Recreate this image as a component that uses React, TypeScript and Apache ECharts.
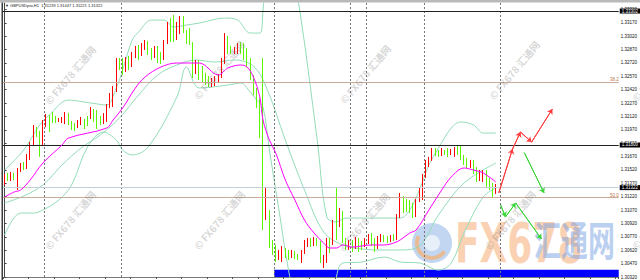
import React, { useEffect, useRef } from "react";
import * as echarts from "echarts";

const HEADER_TEXT = "▼ GBPUSDpro,H1  1.31239 1.31447 1.31221 1.31322";
const SLOT_COUNT = 193;

// [open, close, low, high]
const candles: number[][] = [
  [1.31385, 1.31452, 1.31351, 1.31475],
  [1.31452, 1.31419, 1.31396, 1.31486],
  [1.31419, 1.31464, 1.31396, 1.31497],
  [1.31464, 1.31430, 1.31407, 1.31486],
  [1.31430, 1.31508, 1.31295, 1.31542],
  [1.31508, 1.31565, 1.31497, 1.31598],
  [1.31565, 1.31542, 1.31519, 1.31609],
  [1.31542, 1.31654, 1.31531, 1.31699],
  [1.31654, 1.31800, 1.31632, 1.31833],
  [1.31800, 1.31968, 1.31789, 1.32024],
  [1.31968, 1.31934, 1.31889, 1.32001],
  [1.31934, 1.31822, 1.31666, 1.31957],
  [1.31822, 1.32035, 1.31800, 1.32080],
  [1.32024, 1.32125, 1.32001, 1.32147],
  [1.32114, 1.32013, 1.31945, 1.32136],
  [1.32147, 1.32069, 1.32046, 1.32170],
  [1.32114, 1.32069, 1.32046, 1.32125],
  [1.32069, 1.32091, 1.32058, 1.32102],
  [1.32069, 1.32102, 1.32046, 1.32114],
  [1.32058, 1.32158, 1.32035, 1.32170],
  [1.32147, 1.32058, 1.32024, 1.32158],
  [1.32058, 1.31990, 1.31968, 1.32069],
  [1.32035, 1.31990, 1.31957, 1.32046],
  [1.32013, 1.32069, 1.31990, 1.32080],
  [1.32046, 1.32091, 1.32024, 1.32114],
  [1.32080, 1.32013, 1.31979, 1.32091],
  [1.32102, 1.32035, 1.32013, 1.32125],
  [1.32102, 1.32214, 1.32091, 1.32226],
  [1.32192, 1.32102, 1.32058, 1.32203],
  [1.32170, 1.32035, 1.31979, 1.32192],
  [1.32114, 1.32058, 1.32024, 1.32125],
  [1.32046, 1.32147, 1.32035, 1.32158],
  [1.32069, 1.32237, 1.32058, 1.32259],
  [1.32237, 1.32360, 1.32214, 1.32383],
  [1.32259, 1.32428, 1.32226, 1.32461],
  [1.32394, 1.32730, 1.32394, 1.32775],
  [1.32730, 1.32685, 1.32640, 1.32775],
  [1.32719, 1.32640, 1.32585, 1.32775],
  [1.32640, 1.32753, 1.32618, 1.32786],
  [1.32753, 1.32685, 1.32640, 1.32798],
  [1.32685, 1.32809, 1.32674, 1.32842],
  [1.32798, 1.32887, 1.32775, 1.32910],
  [1.32887, 1.32809, 1.32753, 1.32921],
  [1.32820, 1.32921, 1.32798, 1.32943],
  [1.32910, 1.32954, 1.32865, 1.32977],
  [1.32943, 1.32842, 1.32809, 1.32966],
  [1.32865, 1.32798, 1.32753, 1.32887],
  [1.32798, 1.32887, 1.32775, 1.32910],
  [1.32887, 1.32775, 1.32719, 1.32910],
  [1.32809, 1.32753, 1.32708, 1.32842],
  [1.32775, 1.32954, 1.32753, 1.32977],
  [1.32954, 1.33145, 1.32932, 1.33179],
  [1.33145, 1.32999, 1.32954, 1.33223],
  [1.33089, 1.32977, 1.32954, 1.33257],
  [1.32999, 1.33145, 1.32977, 1.33179],
  [1.33089, 1.33179, 1.33044, 1.33246],
  [1.33201, 1.33089, 1.33055, 1.33246],
  [1.33067, 1.32977, 1.32932, 1.33089],
  [1.33089, 1.32977, 1.32921, 1.33111],
  [1.32921, 1.32640, 1.32551, 1.32954],
  [1.32618, 1.32730, 1.32596, 1.32753],
  [1.32730, 1.32585, 1.32528, 1.32753],
  [1.32640, 1.32551, 1.32506, 1.32685],
  [1.32585, 1.32506, 1.32472, 1.32607],
  [1.32551, 1.32484, 1.32450, 1.32573],
  [1.32472, 1.32528, 1.32450, 1.32551],
  [1.32484, 1.32551, 1.32461, 1.32573],
  [1.32528, 1.32585, 1.32506, 1.32596],
  [1.32573, 1.32730, 1.32551, 1.32775],
  [1.32730, 1.32999, 1.32708, 1.33055],
  [1.32977, 1.32865, 1.32820, 1.33022],
  [1.32887, 1.32842, 1.32820, 1.32910],
  [1.32842, 1.32876, 1.32820, 1.32898],
  [1.32842, 1.32932, 1.32820, 1.32943],
  [1.32932, 1.32842, 1.32820, 1.32954],
  [1.32921, 1.32809, 1.32753, 1.32943],
  [1.32842, 1.32697, 1.32674, 1.32887],
  [1.32730, 1.32551, 1.32528, 1.32775],
  [1.32551, 1.32416, 1.32360, 1.32585],
  [1.32416, 1.32248, 1.32214, 1.32439],
  [1.32304, 1.31912, 1.31878, 1.32327],
  [1.31856, 1.31127, 1.30847, 1.32775],
  [1.31015, 1.31093, 1.30959, 1.31318],
  [1.31037, 1.30679, 1.30645, 1.31071],
  [1.30701, 1.30600, 1.30567, 1.30735],
  [1.30645, 1.30555, 1.30488, 1.30679],
  [1.30544, 1.30589, 1.30511, 1.30623],
  [1.30533, 1.30645, 1.30488, 1.30667],
  [1.30623, 1.30555, 1.30533, 1.30645],
  [1.30600, 1.30544, 1.30511, 1.30623],
  [1.30555, 1.30600, 1.30533, 1.30623],
  [1.30589, 1.30544, 1.30522, 1.30612],
  [1.30567, 1.30533, 1.30511, 1.30578],
  [1.30511, 1.30600, 1.30477, 1.30623],
  [1.30600, 1.30723, 1.30578, 1.30735],
  [1.30679, 1.30735, 1.30656, 1.30757],
  [1.30735, 1.30679, 1.30656, 1.30757],
  [1.30679, 1.30746, 1.30667, 1.30768],
  [1.30735, 1.30690, 1.30667, 1.30757],
  [1.30701, 1.30511, 1.30477, 1.30723],
  [1.30443, 1.30533, 1.30421, 1.30567],
  [1.30511, 1.30723, 1.30477, 1.30757],
  [1.30735, 1.30623, 1.30589, 1.30757],
  [1.30701, 1.30925, 1.30679, 1.30959],
  [1.30903, 1.30825, 1.30735, 1.31329],
  [1.30903, 1.31049, 1.30880, 1.31093],
  [1.31037, 1.30735, 1.30701, 1.31060],
  [1.30735, 1.30656, 1.30623, 1.30757],
  [1.30656, 1.30712, 1.30623, 1.30735],
  [1.30712, 1.30645, 1.30600, 1.30735],
  [1.30656, 1.30735, 1.30634, 1.30768],
  [1.30735, 1.30645, 1.30600, 1.30757],
  [1.30701, 1.30645, 1.30623, 1.30723],
  [1.30679, 1.30735, 1.30656, 1.30757],
  [1.30712, 1.30780, 1.30690, 1.30802],
  [1.30780, 1.30690, 1.30667, 1.30813],
  [1.30735, 1.30623, 1.30600, 1.30757],
  [1.30656, 1.30757, 1.30634, 1.30780],
  [1.30735, 1.30780, 1.30712, 1.30802],
  [1.30780, 1.30735, 1.30712, 1.30791],
  [1.30757, 1.30723, 1.30701, 1.30780],
  [1.30735, 1.30780, 1.30712, 1.30791],
  [1.30780, 1.30735, 1.30723, 1.30802],
  [1.30757, 1.31004, 1.30735, 1.31026],
  [1.31004, 1.31206, 1.30981, 1.31262],
  [1.31183, 1.31071, 1.31037, 1.31228],
  [1.31161, 1.31093, 1.31049, 1.31195],
  [1.31161, 1.31071, 1.31037, 1.31183],
  [1.31127, 1.31015, 1.30981, 1.31150],
  [1.31015, 1.31172, 1.30993, 1.31195],
  [1.31183, 1.31295, 1.31161, 1.31318],
  [1.31206, 1.31452, 1.31183, 1.31475],
  [1.31441, 1.31609, 1.31430, 1.31632],
  [1.31576, 1.31654, 1.31553, 1.31666],
  [1.31632, 1.31744, 1.31621, 1.31766],
  [1.31744, 1.31699, 1.31677, 1.31766],
  [1.31733, 1.31688, 1.31666, 1.31744],
  [1.31688, 1.31744, 1.31677, 1.31766],
  [1.31733, 1.31699, 1.31688, 1.31744],
  [1.31744, 1.31699, 1.31666, 1.31766],
  [1.31699, 1.31744, 1.31688, 1.31755],
  [1.31677, 1.31755, 1.31666, 1.31778],
  [1.31755, 1.31710, 1.31688, 1.31789],
  [1.31766, 1.31654, 1.31632, 1.31789],
  [1.31666, 1.31598, 1.31576, 1.31688],
  [1.31632, 1.31565, 1.31542, 1.31654],
  [1.31565, 1.31609, 1.31542, 1.31632],
  [1.31609, 1.31508, 1.31475, 1.31632],
  [1.31519, 1.31407, 1.31385, 1.31553],
  [1.31430, 1.31497, 1.31396, 1.31519],
  [1.31430, 1.31508, 1.31385, 1.31519],
  [1.31497, 1.31351, 1.31329, 1.31519],
  [1.31407, 1.31340, 1.31295, 1.31430],
  [1.31351, 1.31273, 1.31217, 1.31374],
  [1.31273, 1.31322, 1.31251, 1.31363],
];

// [bar index, price]
const maLine: number[][] = [
  [0, 1.31217], [3, 1.31273], [5, 1.31295], [8, 1.31407], [12, 1.31598], [18, 1.318], [20, 1.31878],
  [32, 1.3199], [34, 1.3208], [37, 1.32214], [41, 1.32439], [44, 1.32562], [49, 1.32674], [54, 1.32719],
  [61, 1.32719], [67, 1.32585], [70, 1.32663], [74, 1.32697], [76, 1.32674], [78, 1.32562], [80, 1.32338],
  [81, 1.3208], [83, 1.31856], [85, 1.3171], [88, 1.31407], [91, 1.31183], [94, 1.30959], [97, 1.30813],
  [100, 1.30701], [102, 1.30645], [104, 1.30645], [106, 1.30679], [109, 1.30656], [115, 1.30679],
  [119, 1.30679], [122, 1.30701], [124, 1.30735], [127, 1.30813], [129, 1.30847], [133, 1.31071],
  [137, 1.31295], [140, 1.31441], [144, 1.31542], [147, 1.31519], [150, 1.31486], [154, 1.31385],
];

const bbUpper: number[][] = [
  [0, 1.31519], [6, 1.31744], [11, 1.32024], [14, 1.32136], [20, 1.32304], [27, 1.32271], [32, 1.32248],
  [35, 1.32439], [37, 1.3264], [40, 1.32977], [42, 1.33067], [46, 1.33201], [50, 1.33201], [53, 1.33123],
  [57, 1.33145], [61, 1.33167], [69, 1.33223], [73, 1.33201], [77, 1.33055], [80, 1.33055], [81, 1.33313],
  [82, 1.3365], [85, 1.34098], [89, 1.33874], [92, 1.33425], [98, 1.31856], [101, 1.30993], [104, 1.30937],
  [107, 1.30981], [115, 1.30981], [124, 1.30981], [127, 1.31071], [130, 1.31295], [133, 1.31576],
  [136, 1.31766], [140, 1.3199], [143, 1.32058], [147, 1.32024], [150, 1.31934], [154, 1.31934],
];

const bbMiddle: number[][] = [
  [0, 1.3115], [6, 1.31228], [12, 1.31351], [18, 1.31576], [24, 1.31766], [30, 1.31912], [36, 1.32102],
  [42, 1.3236], [48, 1.32585], [54, 1.32697], [60, 1.32753], [66, 1.3273], [72, 1.32753], [78, 1.32685],
  [82, 1.3245], [88, 1.31856], [94, 1.31295], [100, 1.30825], [106, 1.30679], [112, 1.30634],
  [118, 1.30623], [124, 1.30623], [130, 1.30668], [136, 1.31015], [144, 1.31374], [154, 1.31598],
];

const bbLower: number[][] = [
  [0, 1.30791], [5, 1.31037], [9, 1.31037], [12, 1.31071], [17, 1.31183], [21, 1.31351], [26, 1.31778],
  [31, 1.31945], [35, 1.31856], [37, 1.31744], [40, 1.31688], [45, 1.31778], [54, 1.32338], [57, 1.32674],
  [61, 1.32439], [70, 1.32472], [74, 1.32495], [77, 1.32394], [79, 1.32304], [81, 1.32226], [83, 1.31744],
  [86, 1.31071], [89, 1.30398], [92, 1.2995], [98, 1.29726], [103, 1.30168], [106, 1.30477], [112, 1.30488],
  [119, 1.30544], [124, 1.30488], [130, 1.30477], [136, 1.30398], [140, 1.30477], [144, 1.30813],
  [150, 1.31217], [154, 1.31318],
];

const daySeparators = [12.5, 36.5, 84.5, 108.5, 113.5, 131.5, 155.5];
const blackLevels = [1.33302, 1.318];
const bidPrice = 1.31322;
const fibLevels = [
  { value: 1.32506, label: "38.2" },
  { value: 1.3121, label: "50.0" },
];
const redPath: number[][] = [[154.9, 1.31262], [159.2, 1.31755], [161.7, 1.31945], [165.2, 1.31833], [171.7, 1.32203]];
const greenPathA: number[][] = [[162.9, 1.31714], [169.1, 1.31262]];
const greenPathB: number[][] = [[155.5, 1.31127], [157, 1.30993], [160.2, 1.3115], [168.3, 1.30746]];
const blueBand = { from: 84.5, to: 192.5, low: 1.3032, high: 1.304 };

const PRICE_MIN = 1.3032;
const PRICE_MAX = 1.33392;
const PRICE_STEP = 0.0015;

const WATERMARK_TEXT = "© FX678 汇通网";
const watermarkCenters = [
  [70, 220], [219, 220], [364, 222], [510, 220], [657, 220],
  [70, 75], [219, 70], [365, 74], [514, 70], [657, 72],
];

function segments(path: number[][], color: string) {
  const out: any[] = [];
  for (let i = 0; i < path.length - 1; i++) {
    out.push([
      { coord: path[i], lineStyle: { color, width: 1, type: "solid" }, symbol: "none" },
      { coord: path[i + 1], symbol: "arrow", symbolSize: 5 },
    ]);
  }
  return out;
}

export default function App() {
  const ref = useRef<HTMLDivElement>(null);
  useEffect(() => {
    if (!ref.current) return;
    const chart = echarts.init(ref.current, undefined, { renderer: "svg" });
    const slots = Array.from({ length: SLOT_COUNT }, (_, i) => String(i));
    const bandLine = (name: string, data: number[][], extra: any = {}) => ({
      name,
      type: "line",
      xAxisIndex: 1,
      yAxisIndex: 0,
      data,
      smooth: 0.35,
      showSymbol: false,
      symbol: "none",
      silent: true,
      clip: true,
      lineStyle: { color: "#93dcb8", width: 1 },
      z: 3,
      ...extra,
    });
    const priceLabel = (v: number) => ({
      show: true,
      position: "end",
      distance: 1,
      formatter: () => v.toFixed(5),
      backgroundColor: "#000",
      color: "#fff",
      fontSize: 4.5,
      padding: [0, 2],
      fontFamily: "Liberation Sans",
    });
    const option: any = {
      animation: false,
      backgroundColor: "#ffffff",
      grid: { left: 3, right: 16, top: 3, bottom: 3, containLabel: false },
      xAxis: [
        { type: "category", data: slots, boundaryGap: true, show: false, gridIndex: 0 },
        {
          type: "value",
          min: -0.5,
          max: 192.5,
          interval: 8,
          position: "bottom",
          gridIndex: 0,
          axisLine: { show: true, lineStyle: { color: "#7a7a7a", width: 1 } },
          axisTick: { show: true, length: 2, lineStyle: { color: "#555" } },
          axisLabel: { show: false },
          splitLine: { show: false },
        },
      ],
      yAxis: [
        {
          type: "value",
          position: "right",
          min: PRICE_MIN,
          max: PRICE_MAX,
          interval: PRICE_STEP,
          axisLine: { show: true, lineStyle: { color: "#444", width: 1 } },
          axisTick: { show: true, length: 2, lineStyle: { color: "#444" } },
          axisLabel: {
            show: true,
            fontSize: 4.5,
            color: "#111",
            margin: 2,
            fontFamily: "Liberation Sans",
            showMaxLabel: false,
            formatter: (v: number) => v.toFixed(5),
          },
          splitLine: { show: false },
        },
      ],
      series: [
        {
          name: "GBPUSD",
          type: "candlestick",
          xAxisIndex: 0,
          yAxisIndex: 0,
          data: candles,
          barWidth: 1.3,
          silent: true,
          itemStyle: {
            color: "#ff0000",
            color0: "#5cf500",
            borderColor: "#ff0000",
            borderColor0: "#5cf500",
            borderWidth: 1,
          },
          z: 4,
        },
        bandLine("BB upper", bbUpper, {
          markLine: {
            silent: true,
            symbol: "none",
            precision: 2,
            label: { show: false },
            lineStyle: { color: "#777", width: 1, type: [2, 2] },
            data: daySeparators.map((v) => ({ xAxis: v })),
          },
        }),
        bandLine("BB middle", bbMiddle, {
          markLine: {
            silent: true,
            symbol: "none",
            precision: 5,
            data: [
              ...blackLevels.map((v) => ({
                yAxis: v,
                lineStyle: { color: "#222", width: 1, type: "solid" },
                label: priceLabel(v),
              })),
              {
                yAxis: bidPrice,
                lineStyle: { color: "#c3ced9", width: 1, type: "solid" },
                label: priceLabel(bidPrice),
              },
              ...fibLevels.map((f) => ({
                yAxis: f.value,
                lineStyle: { color: "#c9ab97", width: 1, type: "solid" },
                label: {
                  show: true,
                  position: "insideEndTop",
                  distance: 0,
                  formatter: () => f.label,
                  color: "#c07850",
                  fontSize: 4.5,
                  fontFamily: "Liberation Sans",
                },
              })),
            ],
          },
        }),
        bandLine("BB lower", bbLower, {
          markArea: {
            silent: true,
            itemStyle: { color: "#0000ff", opacity: 1 },
            data: [[{ coord: [blueBand.from, blueBand.low] }, { coord: [blueBand.to, blueBand.high] }]],
          },
        }),
        bandLine("MA", maLine, { lineStyle: { color: "#ff00ff", width: 1 }, z: 5 }),
        {
          name: "Bull path",
          type: "line",
          xAxisIndex: 1,
          yAxisIndex: 0,
          data: redPath,
          showSymbol: false,
          symbol: "none",
          silent: true,
          lineStyle: { color: "#ff3b3b", width: 1 },
          markLine: { silent: true, precision: 5, label: { show: false }, data: segments(redPath, "#ff3b3b") },
          z: 6,
        },
        {
          name: "Bear path A",
          type: "line",
          xAxisIndex: 1,
          yAxisIndex: 0,
          data: greenPathA,
          showSymbol: false,
          symbol: "none",
          silent: true,
          lineStyle: { color: "#3ad63a", width: 1 },
          markLine: { silent: true, precision: 5, label: { show: false }, data: segments(greenPathA, "#3ad63a") },
          z: 6,
        },
        {
          name: "Bear path B",
          type: "line",
          xAxisIndex: 1,
          yAxisIndex: 0,
          data: greenPathB,
          showSymbol: false,
          symbol: "none",
          silent: true,
          lineStyle: { color: "#3ad63a", width: 1 },
          markLine: { silent: true, precision: 5, label: { show: false }, data: segments(greenPathB, "#3ad63a") },
          z: 6,
        },
      ],
      graphic: [
        { type: "rect", left: 0, top: 0, shape: { width: 640, height: 2.5 }, style: { fill: "#b9b9b9" }, z: 10, silent: true },
        { type: "rect", left: 1.5, top: 2.5, shape: { width: 1.5, height: 278 }, style: { fill: "#3d3d3d" }, z: 10, silent: true },
        {
          type: "text",
          left: 5,
          top: 3.5,
          style: { text: HEADER_TEXT, fontSize: 4, fill: "#222", fontFamily: "Liberation Sans" },
          z: 10,
          silent: true,
        },
        ...watermarkCenters.map(([x, y]) => ({
          type: "text",
          x,
          y,
          rotation: (50 * Math.PI) / 180,
          silent: true,
          z: 20,
          style: {
            text: WATERMARK_TEXT,
            fontSize: 10,
            fontWeight: "bold",
            fontFamily: "Noto Sans CJK SC",
            fill: "rgba(110,110,110,0.28)",
            align: "center",
            verticalAlign: "middle",
          },
        })),
        {
          type: "group",
          silent: true,
          z: 21,
          children: [
            { type: "circle", shape: { cx: 432, cy: 243, r: 20 }, style: { fill: "rgba(120,165,225,0.45)" } },
            { type: "arc", shape: { cx: 432, cy: 243, r: 15, startAngle: 0.6, endAngle: 3.6 }, style: { stroke: "rgba(245,175,110,0.7)", lineWidth: 4, fill: "none" } },
            { type: "circle", shape: { cx: 432, cy: 243, r: 8 }, style: { fill: "rgba(255,255,255,0.6)" } },
            {
              type: "text",
              x: 455,
              y: 242,
              scaleY: 1.4,
              style: {
                text: "FX678",
                fontSize: 40,
                fontWeight: "bold",
                fontFamily: "DejaVu Sans Condensed",
                fill: "rgba(247,172,112,0.55)",
                verticalAlign: "middle",
              },
            },
            {
              type: "text",
              x: 534,
              y: 238,
              scaleY: 1.5,
              style: {
                text: "汇通网",
                fontSize: 27,
                fontWeight: "bold",
                fontFamily: "Noto Sans CJK SC",
                fill: "rgba(120,160,225,0.5)",
                verticalAlign: "middle",
              },
            },
          ],
        },
      ],
    };
    chart.setOption(option);
    return () => chart.dispose();
  }, []);
  return <div ref={ref} style={{ position: "fixed", left: 0, top: 0, width: 640, height: 280 }} />;
}
